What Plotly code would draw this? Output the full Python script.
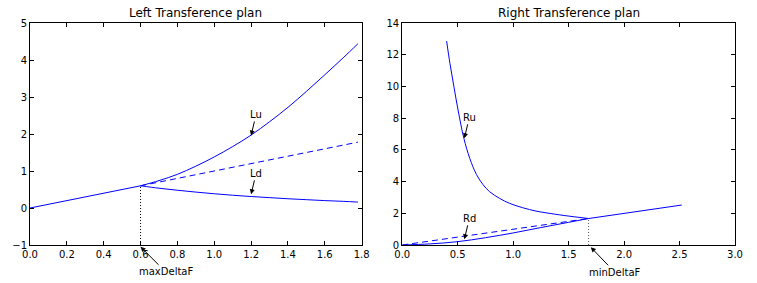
import plotly.graph_objects as go

# ---------------- data ----------------
# Left transference plan
left_base_x = [0.0, 0.6]
left_base_y = [0.0, 0.6]
lu_x = [0.6, 0.7, 0.8, 0.9, 1.0, 1.1, 1.2, 1.3, 1.4, 1.5, 1.6, 1.7, 1.78]
lu_y = [0.6, 0.74, 0.91, 1.13, 1.38, 1.66, 1.97, 2.33, 2.72, 3.15, 3.60, 4.06, 4.44]
ld_x = [0.6, 0.7, 0.8, 0.9, 1.0, 1.1, 1.2, 1.3, 1.4, 1.5, 1.6, 1.7, 1.78]
ld_y = [0.6, 0.535, 0.48, 0.43, 0.385, 0.345, 0.31, 0.28, 0.25, 0.225, 0.20, 0.18, 0.16]
left_dash_x = [0.6, 1.78]
left_dash_y = [0.6, 1.78]
max_delta_f = 0.6

# Right transference plan
ru_x = [0.40, 0.43, 0.466, 0.505, 0.556, 0.609, 0.669, 0.729, 0.788, 0.878, 0.967,
        1.087, 1.206, 1.296, 1.371, 1.46, 1.55, 1.68]
ru_y = [12.86, 11.45, 9.98, 8.45, 6.72, 5.46, 4.45, 3.80, 3.36, 2.94, 2.63,
        2.35, 2.14, 2.03, 1.95, 1.86, 1.78, 1.67]
rd_x = [0.0, 0.25, 0.5, 0.75, 1.0, 1.25, 1.5, 1.68]
rd_y = [0.0, 0.07, 0.21, 0.46, 0.76, 1.1, 1.43, 1.67]
right_base_x = [1.68, 2.52]
right_base_y = [1.67, 2.52]
right_dash_x = [0.0, 1.68]
right_dash_y = [0.0, 1.67]
min_delta_f = 1.68

left_title = "Left Transference plan"
right_title = "Right Transference plan"

FONT = "DejaVu Sans"
BLUE = "#0000ff"

fig = go.Figure()

def line(x, y, xa, ya, dash="solid", color=BLUE, shape="linear"):
    fig.add_trace(go.Scatter(x=x, y=y, mode="lines", xaxis=xa, yaxis=ya,
                             line=dict(color=color, width=1, dash=dash, shape=shape),
                             showlegend=False, hoverinfo="skip"))

# left
line(left_base_x, left_base_y, "x", "y")
line(lu_x, lu_y, "x", "y", shape="spline")
line(ld_x, ld_y, "x", "y", shape="spline")
line(left_dash_x, left_dash_y, "x", "y", dash="6px,4px")
line([max_delta_f, max_delta_f], [-1, left_base_y[-1]], "x", "y", dash="1px,2px", color="black")

# right
line(ru_x, ru_y, "x2", "y2", shape="spline")
line(rd_x, rd_y, "x2", "y2", shape="spline")
line(right_base_x, right_base_y, "x2", "y2")
line(right_dash_x, right_dash_y, "x2", "y2", dash="6px,4px")
line([min_delta_f, min_delta_f], [0, right_base_y[0]], "x2", "y2", dash="1px,2px", color="#555555")

axis_common = dict(showline=True, linecolor="black", linewidth=1, mirror="ticks",
                   ticks="inside", ticklen=4, tickcolor="black", showgrid=False,
                   zeroline=False, tickfont=dict(family=FONT, size=10, color="black"))

fig.update_layout(
    width=757, height=283,
    margin=dict(l=25, r=22, t=23, b=38),
    plot_bgcolor="white", paper_bgcolor="white",
    font=dict(family=FONT, size=10, color="black"),
    xaxis=dict(domain=[0, 0.4704], range=[0, 1.8], tick0=0, dtick=0.2, tickformat=".1f",
               anchor="y", **axis_common),
    yaxis=dict(domain=[0, 1], range=[-1, 5], tick0=0, dtick=1, anchor="x", **axis_common),
    xaxis2=dict(domain=[0.528, 1], range=[0, 3], tick0=0, dtick=0.5, tickformat=".1f",
                anchor="y2", **axis_common),
    yaxis2=dict(domain=[0, 1], range=[0, 14], tick0=0, dtick=2, anchor="x2", **axis_common),
)

# titles
for xr, yr, t in [("x domain", "y domain", left_title), ("x2 domain", "y2 domain", right_title)]:
    fig.add_annotation(xref=xr, yref=yr, x=0.5, y=1, yanchor="bottom", yshift=1,
                       text=t, showarrow=False, font=dict(family=FONT, size=12, color="black"))

def arrow(xr, yr, x, y, text, ax, ay):
    fig.add_annotation(xref=xr, yref=yr, x=x, y=y, text=text, showarrow=True,
                       ax=ax, ay=ay, arrowhead=2, arrowsize=1, arrowwidth=1,
                       arrowcolor="black", standoff=0, startstandoff=0,
                       font=dict(family=FONT, size=10, color="black"))

arrow("x", "y", 1.2, 1.96, "Lu", 5, -21)
arrow("x", "y", 1.2, 0.37, "Ld", 5, -21)
arrow("x", "paper", max_delta_f, -0.008, "maxDeltaF", 25, 25)
arrow("x2", "y2", 0.56, 6.73, "Ru", 5, -21)
arrow("x2", "y2", 0.56, 0.36, "Rd", 5, -21)
arrow("x2", "paper", min_delta_f + 0.02, -0.01, "minDeltaF", 24, 25)

fig.write_html("out.html", config={"displayModeBar": False},
               post_script="document.body.style.margin='0';document.body.style.padding='0';")
